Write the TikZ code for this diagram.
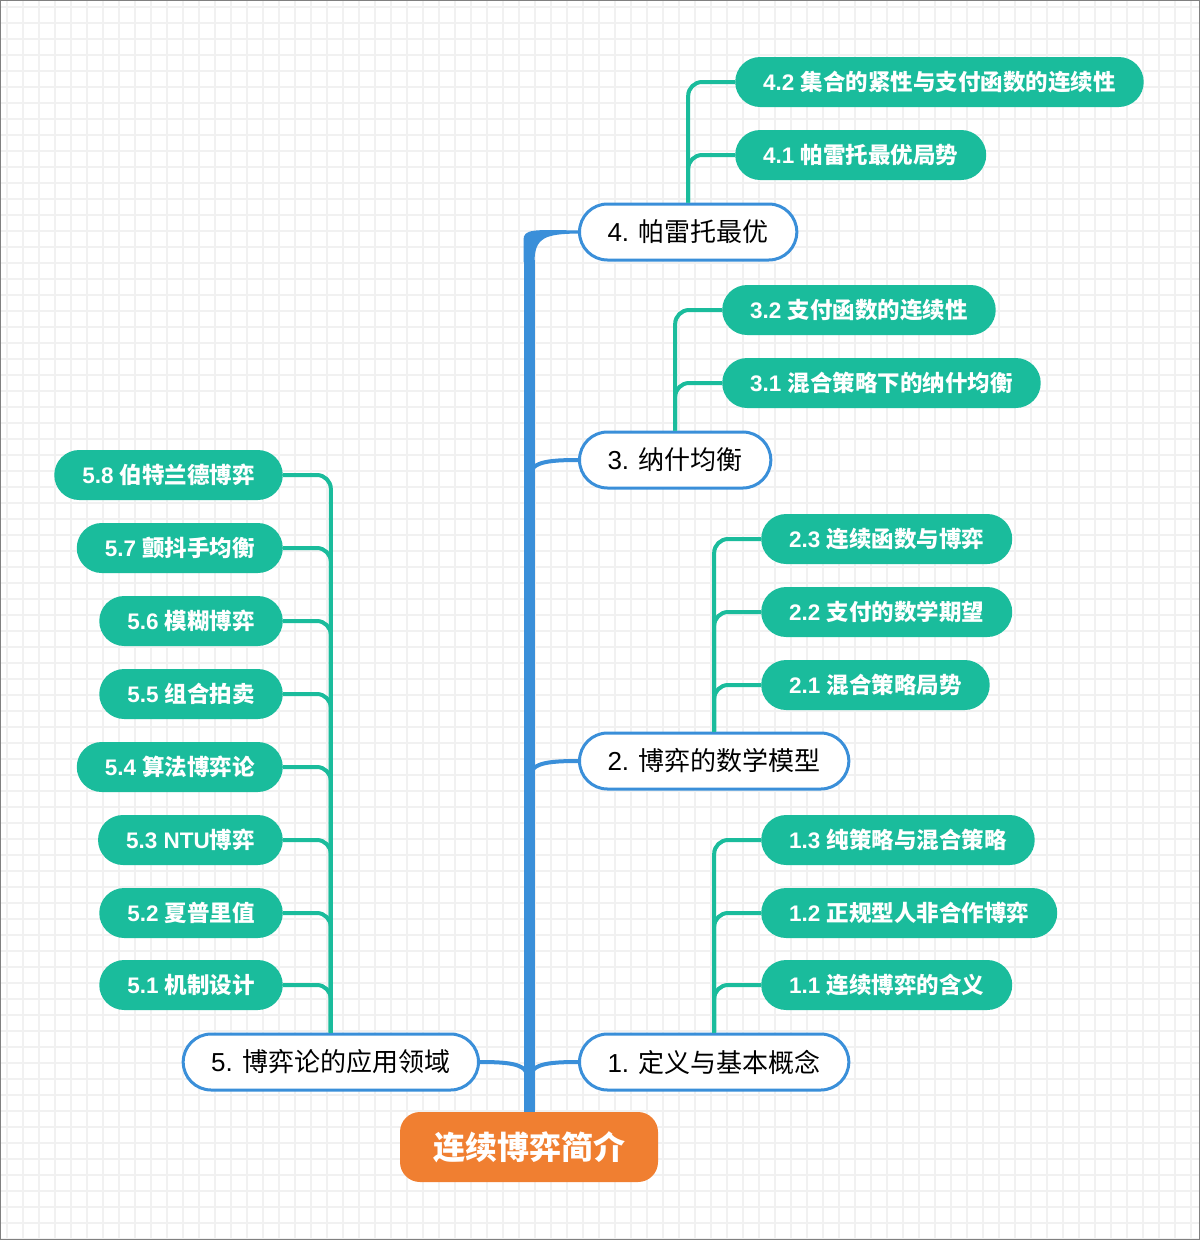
\documentclass[tikz,border=0pt]{standalone}
\usepackage{fontspec}
\setmainfont{Liberation Sans}
\newfontfamily\cjk{Noto Sans CJK SC}

\definecolor{trunkblue}{HTML}{3A8FD9}
\definecolor{leafgreen}{HTML}{1ABC9C}
\definecolor{rootorange}{HTML}{F07F31}
\definecolor{gridgray}{HTML}{F1F1F1}

\tikzset{
  rootbox/.style={fill=rootorange, text=white, rounded corners=20pt,
    minimum width=258pt, minimum height=70pt,
    font=\fontsize{32}{36}\selectfont\bfseries},
  topicbox/.style={draw=trunkblue, line width=3pt, fill=white, rounded corners=28pt,
    minimum height=56pt, inner xsep=28pt, inner ysep=0pt,
    font=\fontsize{26}{30}\selectfont},
  leafbox/.style={fill=leafgreen, text=white, rounded corners=25pt,
    minimum height=50pt, inner xsep=28pt, inner ysep=0pt,
    font=\fontsize{22.5}{26}\selectfont\bfseries},
  trunk/.style={draw=trunkblue, line width=11pt},
  twig/.style={draw=trunkblue, line width=4pt},
  stem/.style={draw=leafgreen, line width=4pt, rounded corners=14pt},
  gridline/.style={draw=gridgray, line width=1.3pt},
}

\begin{document}
\begin{tikzpicture}[x=1pt, y=-1pt]

% Fond quadrillé
\fill[white] (0,0) rectangle (1200,1240);
\useasboundingbox (0,0) rectangle (1200,1240);
\foreach \i in {0,...,74}
  \draw[gridline] (7+16*\i,0) -- (7+16*\i,1240);
\foreach \j in {0,...,77}
  \draw[gridline] (0,7+16*\j) -- (1200,7+16*\j);
\draw[gray, line width=1pt] (0.5,0.5) rectangle (1199.5,1239.5);

% Racine
\node[rootbox] (root) at (529,1147) {\cjk 连续博弈简介};

% Chapitres
\node[topicbox, anchor=west] (ch4) at (578,232) {4. \cjk 帕雷托最优};
\node[topicbox, anchor=west] (ch3) at (578,460) {3. \cjk 纳什均衡};
\node[topicbox, anchor=west] (ch2) at (578,761) {2. \cjk 博弈的数学模型};
\node[topicbox, anchor=west] (ch1) at (578,1062) {1. \cjk 定义与基本概念};
\node[topicbox, anchor=east] (ch5) at (480,1062) {5. \cjk 博弈论的应用领域};

% Sections à droite
\node[leafbox, anchor=west] (s42) at (735,82) {4.2 \cjk 集合的紧性与支付函数的连续性};
\node[leafbox, anchor=west] (s41) at (735,155) {4.1 \cjk 帕雷托最优局势};
\node[leafbox, anchor=west] (s32) at (722,310) {3.2 \cjk 支付函数的连续性};
\node[leafbox, anchor=west] (s31) at (722,383) {3.1 \cjk 混合策略下的纳什均衡};
\node[leafbox, anchor=west] (s23) at (761,539) {2.3 \cjk 连续函数与博弈};
\node[leafbox, anchor=west] (s22) at (761,612) {2.2 \cjk 支付的数学期望};
\node[leafbox, anchor=west] (s21) at (761,685) {2.1 \cjk 混合策略局势};
\node[leafbox, anchor=west] (s13) at (761,840) {1.3 \cjk 纯策略与混合策略};
\node[leafbox, anchor=west] (s12) at (761,913) {1.2 \cjk 正规型人非合作博弈};
\node[leafbox, anchor=west] (s11) at (761,985) {1.1 \cjk 连续博弈的含义};

% Sections à gauche
\node[leafbox, anchor=east] (s58) at (283,475) {5.8 \cjk 伯特兰德博弈};
\node[leafbox, anchor=east] (s57) at (283,548) {5.7 \cjk 颤抖手均衡};
\node[leafbox, anchor=east] (s56) at (283,621) {5.6 \cjk 模糊博弈};
\node[leafbox, anchor=east] (s55) at (283,694) {5.5 \cjk 组合拍卖};
\node[leafbox, anchor=east] (s54) at (283,767) {5.4 \cjk 算法博弈论};
\node[leafbox, anchor=east] (s53) at (283,840) {5.3 NTU\cjk 博弈};
\node[leafbox, anchor=east] (s52) at (283,913) {5.2 \cjk 夏普里值};
\node[leafbox, anchor=east] (s51) at (283,985) {5.1 \cjk 机制设计};

% Tronc
\coordinate (top) at (529,260);
\draw[trunk] (root.north) -- (top);
% coude effilé vers le chapitre 4
\fill[trunkblue] (523.5,262) -- (523.5,240)
  .. controls (523.5,229) and (533,229.5) .. (ch4.west |- 0,230.5)
  -- (ch4.west |- 0,233.5)
  .. controls (546,234) and (534.5,237) .. (534.5,262) -- cycle;
\draw[twig] (529,482) .. controls (529,464) and (538,460) .. (ch3.west);
\draw[twig] (529,783) .. controls (529,765) and (538,761) .. (ch2.west);
\draw[twig] (529,1084) .. controls (529,1066) and (538,1062) .. (ch1.west);
\draw[twig] (529,1084) .. controls (529,1066) and (520,1062) .. (ch5.east);

% Branches vertes
\draw[stem] (ch4.north) |- (s42.west);
\draw[stem] (ch4.north) |- (s41.west);
\draw[stem] (ch3.north) |- (s32.west);
\draw[stem] (ch3.north) |- (s31.west);
\foreach \s in {s23,s22,s21}
  \draw[stem] (ch2.north) |- (\s.west);
\foreach \s in {s13,s12,s11}
  \draw[stem] (ch1.north) |- (\s.west);
\foreach \s in {s58,s57,s56,s55,s54,s53,s52,s51}
  \draw[stem] (ch5.north) |- (\s.east);

\end{tikzpicture}
\end{document}
